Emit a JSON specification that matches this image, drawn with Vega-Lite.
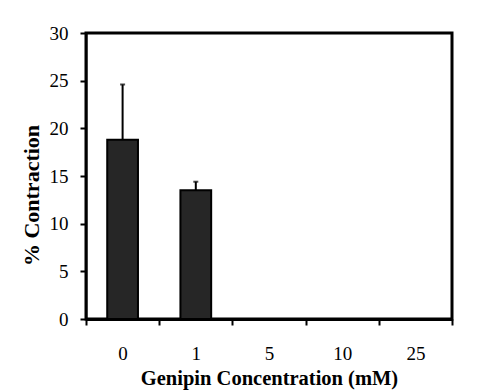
{
  "$schema": "https://vega.github.io/schema/vega-lite/v6.json",
  "width": 366,
  "height": 286,
  "autosize": {"type": "none"},
  "padding": {"left": 86, "top": 33, "right": 29, "bottom": 72},
  "background": "white",
  "data": {"values": [
    {"conc": "0", "value": 18.8, "upper": 24.6},
    {"conc": "1", "value": 13.5, "upper": 14.4},
    {"conc": "5", "value": 0, "upper": 0},
    {"conc": "10", "value": 0, "upper": 0},
    {"conc": "25", "value": 0, "upper": 0}
  ]},
  "encoding": {
    "x": {
      "field": "conc", "type": "ordinal", "sort": null,
      "scale": {"paddingInner": 0, "paddingOuter": 0},
      "axis": {
        "title": "Genipin Concentration (mM)", "labelAngle": 0,
        "tickBand": "extent", "labelPadding": 19, "titlePadding": 5, "titleFontSize": 20.5
      }
    }
  },
  "layer": [
    {
      "mark": {"type": "rule", "color": "black", "strokeWidth": 2},
      "encoding": {
        "y": {"field": "value", "type": "quantitative"},
        "y2": {"field": "upper"}
      }
    },
    {
      "mark": {"type": "tick", "color": "black", "thickness": 2, "size": 5},
      "transform": [{"filter": "datum.upper > datum.value"}],
      "encoding": {
        "y": {"field": "upper", "type": "quantitative"}
      }
    },
    {
      "mark": {"type": "bar", "fill": "#262626", "stroke": "black", "strokeWidth": 2, "width": {"band": 0.42}},
      "encoding": {
        "y": {
          "field": "value", "type": "quantitative",
          "scale": {"domain": [0, 30], "nice": false},
          "axis": {
            "title": "% Contraction", "values": [0, 5, 10, 15, 20, 25, 30], "grid": false,
            "domainWidth": 2, "labelPadding": 12, "titlePadding": 6,
            "titleFontSize": 22, "titleY": 162
          }
        }
      }
    }
  ],
  "config": {
    "view": {"stroke": "black", "strokeWidth": 3},
    "axis": {
      "tickSize": 6, "tickWidth": 2, "tickColor": "black",
      "domainWidth": 3, "domainColor": "black",
      "labelFont": "Liberation Serif", "labelFontSize": 19, "labelColor": "black",
      "titleFont": "Liberation Serif", "titleFontSize": 20, "titleFontWeight": "bold", "titleColor": "black"
    }
  }
}
